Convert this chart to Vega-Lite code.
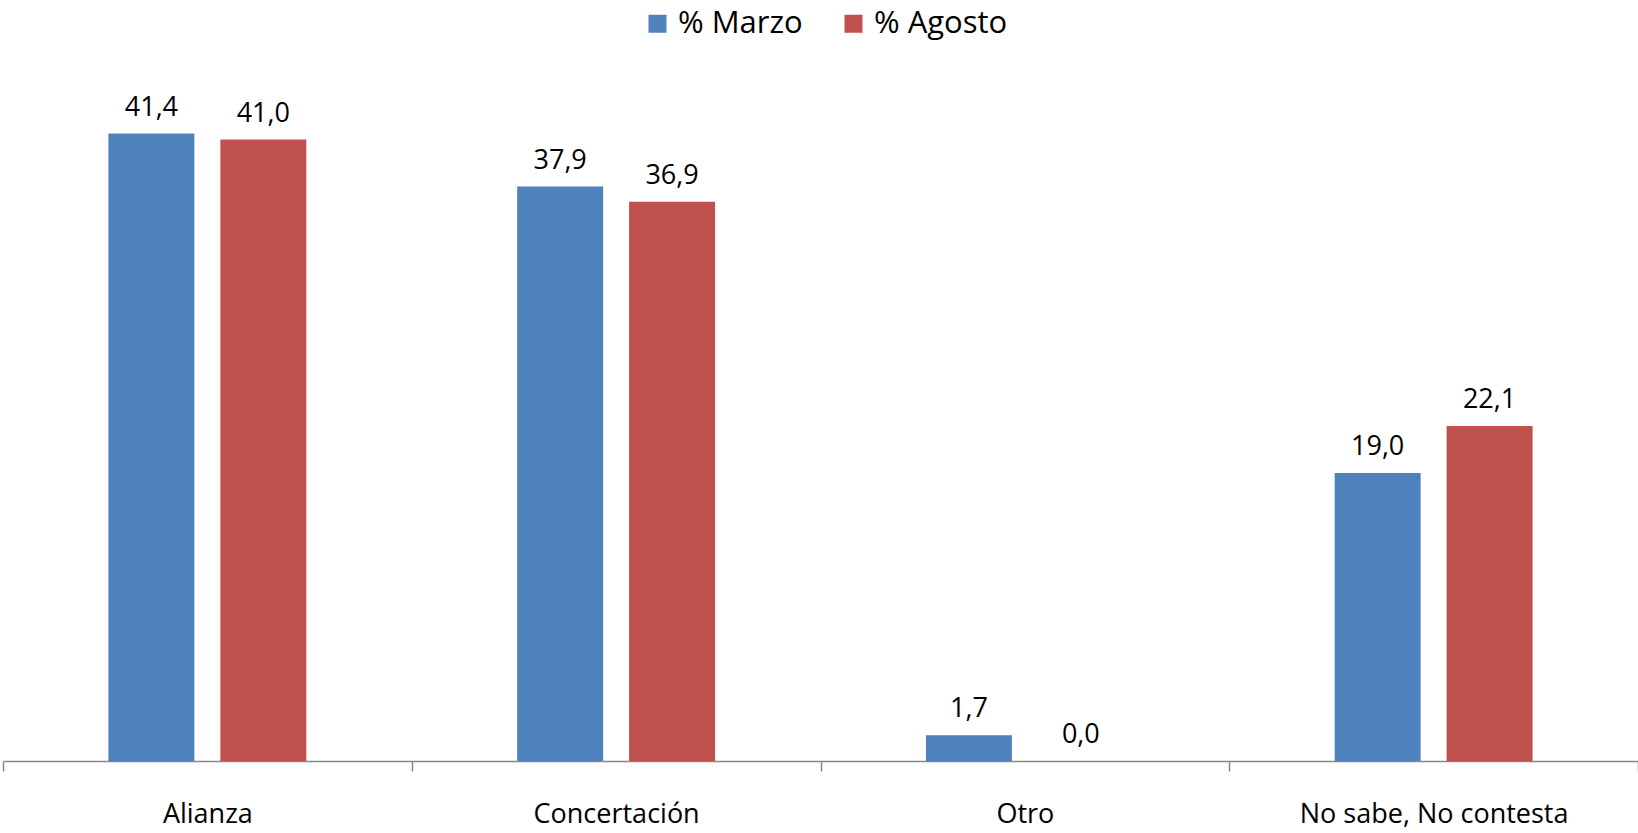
{
  "$schema": "https://vega.github.io/schema/vega-lite/v6.json",
  "width": 1635,
  "height": 682,
  "autosize": {"type": "none"},
  "padding": {"left": 3, "top": 79, "right": 0, "bottom": 72},
  "background": "white",
  "data": {
    "values": [
      {"categoria": "Alianza", "serie": "% Marzo", "valor": 41.4},
      {"categoria": "Alianza", "serie": "% Agosto", "valor": 41.0},
      {"categoria": "Concertación", "serie": "% Marzo", "valor": 37.9},
      {"categoria": "Concertación", "serie": "% Agosto", "valor": 36.9},
      {"categoria": "Otro", "serie": "% Marzo", "valor": 1.7},
      {"categoria": "Otro", "serie": "% Agosto", "valor": 0.0},
      {"categoria": "No sabe, No contesta", "serie": "% Marzo", "valor": 19.0},
      {"categoria": "No sabe, No contesta", "serie": "% Agosto", "valor": 22.1}
    ]
  },
  "encoding": {
    "x": {
      "field": "categoria",
      "type": "nominal",
      "sort": ["Alianza", "Concertación", "Otro", "No sabe, No contesta"],
      "scale": {"paddingInner": 0, "paddingOuter": 0},
      "axis": {
        "title": null,
        "labelAngle": 0,
        "labelFont": "Open Sans",
        "labelFontSize": 27,
        "labelColor": "black",
        "labelBaseline": "alphabetic",
        "labelPadding": 51,
        "labelLimit": 0,
        "tickBand": "extent",
        "tickSize": 10,
        "tickColor": "#888888",
        "domainColor": "#888888",
        "domainWidth": 1.5,
        "tickWidth": 1.5
      }
    },
    "xOffset": {
      "field": "serie",
      "type": "nominal",
      "sort": ["% Marzo", "% Agosto"],
      "scale": {"paddingInner": 0.232, "paddingOuter": 0.942}
    },
    "y": {
      "field": "valor",
      "type": "quantitative",
      "scale": {"domain": [0, 45], "nice": false},
      "axis": null
    }
  },
  "layer": [
    {
      "mark": {"type": "bar"},
      "encoding": {
        "color": {
          "field": "serie",
          "type": "nominal",
          "sort": ["% Marzo", "% Agosto"],
          "scale": {"domain": ["% Marzo", "% Agosto"], "range": ["#4F81BD", "#C0504D"]},
          "legend": {
            "title": null,
            "orient": "none",
            "direction": "horizontal",
            "legendX": 639,
            "legendY": -71,
            "symbolType": "square",
            "symbolSize": 324,
            "symbolStrokeWidth": 0,
            "labelFont": "Open Sans",
            "labelFontSize": 31,
            "labelColor": "black",
            "labelOffset": 5,
            "labelLimit": 0,
            "columnPadding": 35
          }
        }
      }
    },
    {
      "mark": {"type": "text", "baseline": "alphabetic", "dy": -18, "font": "Open Sans", "fontSize": 27, "color": "black"},
      "encoding": {
        "text": {"field": "valor", "type": "quantitative", "format": ".1f"}
      }
    }
  ],
  "config": {
    "view": {"stroke": null},
    "locale": {"number": {"decimal": ",", "thousands": ".", "grouping": [3], "currency": ["", "€"]}}
  }
}
